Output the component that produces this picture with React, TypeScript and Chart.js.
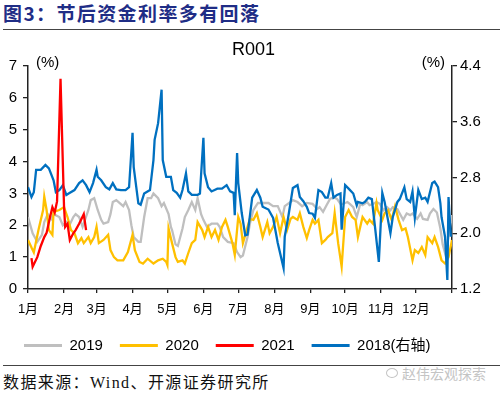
import React, { useEffect, useRef } from 'react';
import { Chart, registerables } from 'chart.js';

Chart.register(...registerables);

const MONTH_LABELS = ['1月', '2月', '3月', '4月', '5月', '6月', '7月', '8月', '9月', '10月', '11月', '12月'];
const MONTH_START_DAYS = [0, 31, 59, 90, 120, 151, 181, 212, 243, 273, 304, 334, 365];

const LEFT_TICKS = [0, 1, 2, 3, 4, 5, 6, 7];
const RIGHT_TICKS = [1.2, 2.0, 2.8, 3.6, 4.4];

const SERIES_LABELS = ['2019', '2020', '2021', '2018(右轴)'];
const SERIES_COLORS = ['#BFBFBF', '#FFC000', '#FF0000', '#0070C0'];

const DAYS_2019 = [0, 4, 8, 12, 14, 17, 20, 22, 27, 30, 33, 35, 39, 41, 44, 47, 52, 54, 57, 60, 63, 65, 69, 71, 73, 76, 78, 82, 84, 87, 89, 91, 95, 97, 100, 103, 106, 108, 112, 115, 117, 121, 123, 124, 127, 129, 133, 135, 138, 141, 144, 146, 149, 151, 154, 158, 163, 165, 168, 172, 177, 180, 183, 185, 189, 191, 194, 198, 202, 207, 211, 215, 219, 221, 226, 228, 232, 236, 240, 245, 249, 251, 254, 257, 260, 263, 266, 269, 271, 275, 277, 280, 283, 286, 288, 292, 294, 297, 300, 303, 306, 309, 312, 314, 318, 320, 323, 326, 329, 331, 335, 338, 340, 344, 346, 349, 352, 355, 357, 359, 362, 365];
const R001_2019 = [2.26, 1.75, 1.48, 1.7, 2.1, 2.35, 2.2, 2.35, 2.26, 2.0, 2.1, 1.95, 2.26, 2.35, 2.26, 1.95, 2.48, 2.79, 2.85, 2.48, 2.17, 2.05, 2.1, 2.35, 2.73, 2.79, 2.73, 2.6, 2.73, 2.48, 2.0, 1.63, 1.48, 1.48, 2.26, 2.85, 2.85, 3.0, 2.85, 2.6, 2.7, 2.35, 1.95, 1.85, 1.4, 1.35, 1.9, 2.26, 2.48, 2.73, 2.48, 2.85, 2.35, 2.17, 1.95, 2.05, 2.05, 1.95, 1.63, 1.48, 1.44, 1.16, 1.0, 1.05, 1.63, 2.05, 2.48, 2.7, 2.7, 2.7, 2.6, 2.6, 2.26, 2.6, 2.73, 2.79, 2.73, 2.6, 2.7, 2.67, 2.51, 2.57, 2.42, 2.63, 2.83, 2.88, 2.83, 2.67, 2.67, 2.73, 2.67, 2.57, 2.26, 2.67, 2.63, 2.73, 2.63, 2.67, 2.73, 2.67, 2.47, 2.57, 2.47, 2.57, 2.51, 2.37, 2.17, 2.37, 2.32, 2.37, 2.2, 2.37, 2.2, 2.17, 2.37, 2.51, 2.4, 1.9, 1.4, 1.13, 1.63, 2.32];

const DAYS_2020 = [0, 3, 5, 9, 13, 14, 16, 18, 21, 22, 27, 31, 34, 37, 40, 43, 46, 48, 52, 54, 57, 59, 61, 65, 69, 71, 74, 77, 82, 86, 90, 92, 96, 99, 103, 108, 112, 116, 119, 120, 121, 124, 127, 129, 133, 135, 138, 141, 144, 146, 150, 152, 155, 158, 161, 164, 167, 170, 172, 176, 178, 181, 183, 185, 189, 191, 194, 197, 200, 202, 206, 208, 211, 214, 217, 220, 223, 226, 228, 232, 234, 237, 240, 242, 245, 247, 250, 253, 256, 258, 262, 264, 267, 270, 273, 276, 279, 282, 284, 286, 288, 292, 294, 297, 300, 301, 305, 307, 310, 313, 316, 319, 322, 325, 327, 331, 333, 336, 339, 342, 344, 348, 350, 353, 356, 359, 362, 365];
const R001_2020 = [1.54, 1.3, 1.15, 1.85, 2.48, 2.9, 2.48, 1.85, 1.7, 2.42, 2.48, 2.57, 2.26, 1.85, 1.75, 1.44, 1.6, 1.44, 1.63, 1.44, 1.63, 1.95, 1.44, 1.54, 1.7, 1.22, 1.0, 0.9, 0.9, 1.16, 1.7, 1.22, 0.85, 0.8, 0.95, 0.8, 0.9, 0.95, 0.85, 0.75, 1.9, 1.44, 1.0, 0.85, 0.9, 0.8, 1.13, 1.44, 1.54, 2.1, 1.85, 1.63, 1.95, 1.63, 1.85, 1.54, 1.95, 2.17, 1.95, 1.44, 1.07, 2.26, 2.05, 1.44, 1.95, 2.2, 2.17, 2.38, 1.95, 1.63, 2.1, 1.75, 1.95, 2.26, 1.75, 2.26, 1.85, 2.2, 2.26, 2.17, 2.38, 1.95, 1.6, 1.85, 2.17, 2.05, 2.17, 1.44, 1.54, 1.63, 1.75, 2.38, 1.44, 0.7, 2.26, 2.48, 2.26, 2.17, 1.63, 1.95, 2.26, 2.05, 2.17, 2.05, 2.7, 2.48, 2.17, 2.38, 2.48, 2.17, 2.6, 2.17, 1.85, 1.9, 1.63, 0.9, 1.22, 1.13, 1.32, 1.07, 1.63, 1.44, 1.63, 1.32, 0.9, 0.8, 1.0, 1.54];

const DAYS_2021 = [3, 4, 8, 11, 14, 16, 19, 21, 23, 25, 28, 31, 32, 34, 36, 39, 41, 44, 46, 48, 50];
const R001_2021 = [0.97, 0.7, 1.0, 1.35, 1.63, 1.76, 2.26, 2.57, 2.4, 2.75, 6.6, 2.6, 1.95, 2.05, 1.54, 1.75, 1.85, 2.05, 2.2, 2.35, 1.85];

const DAYS_2018 = [0, 3, 5, 7, 11, 15, 18, 22, 24, 27, 30, 33, 35, 40, 44, 47, 50, 53, 56, 59, 60, 63, 67, 70, 73, 76, 80, 84, 87, 90, 91, 95, 97, 100, 105, 108, 109, 112, 115, 116, 119, 123, 125, 128, 131, 133, 136, 138, 141, 146, 148, 151, 152, 155, 158, 163, 167, 171, 174, 177, 178, 180, 181, 184, 187, 189, 193, 197, 200, 202, 207, 211, 215, 220, 221, 224, 228, 232, 234, 237, 240, 242, 245, 247, 250, 253, 256, 258, 261, 263, 266, 269, 270, 273, 276, 280, 283, 284, 288, 290, 293, 296, 299, 302, 305, 307, 312, 314, 318, 320, 324, 326, 329, 331, 333, 336, 339, 342, 344, 348, 350, 353, 355, 356, 359, 361, 362, 364];
const R001_2018 = [2.66, 2.52, 2.59, 2.91, 2.91, 2.98, 2.93, 2.76, 2.59, 2.62, 2.69, 2.55, 2.57, 2.62, 2.72, 2.76, 2.69, 2.59, 2.72, 2.91, 2.81, 2.76, 2.66, 2.63, 2.72, 2.63, 2.62, 2.62, 2.66, 3.44, 2.95, 2.43, 2.41, 2.57, 2.62, 3.05, 3.34, 3.58, 4.06, 3.05, 2.81, 2.81, 2.62, 2.58, 2.51, 2.62, 2.86, 2.6, 2.55, 2.55, 2.57, 3.37, 2.86, 2.66, 2.6, 2.64, 2.64, 2.69, 2.6, 2.58, 2.26, 3.15, 2.72, 2.29, 1.97, 1.98, 2.51, 2.62, 2.51, 2.38, 2.34, 2.22, 1.86, 1.5, 1.95, 2.23, 2.65, 2.69, 2.52, 2.46, 2.38, 2.29, 2.28, 2.22, 2.62, 2.59, 2.51, 2.51, 2.72, 2.51, 2.55, 2.57, 2.05, 2.69, 2.64, 2.57, 2.4, 2.45, 2.43, 2.45, 2.51, 2.49, 2.05, 1.59, 2.58, 2.45, 2.0, 2.23, 2.45, 2.49, 2.66, 2.49, 2.45, 2.6, 2.22, 2.62, 2.49, 2.51, 2.45, 2.72, 2.74, 2.66, 2.43, 2.23, 1.95, 1.33, 2.52, 1.95];

const CHART_TITLE = 'R001';
const UNIT_LABEL = '(%)';
const HEADER_TEXT = '图3：节后资金利率多有回落';
const SOURCE_TEXT = '数据来源：Wind、开源证券研究所';
const WATERMARK_TEXT = '赵伟宏观探索';

const FONT_FAMILY = "'Liberation Sans', Arial, 'Noto Sans CJK SC', sans-serif";

const pairs = (days: number[], vals: number[]) => days.map((d, i) => ({ x: d, y: vals[i] }));

const unitPlugin = {
  id: 'unitLabels',
  afterDraw(chart: any) {
    const { ctx, chartArea } = chart;
    ctx.save();
    ctx.font = `15px ${FONT_FAMILY}`;
    ctx.fillStyle = '#000';
    ctx.textBaseline = 'middle';
    ctx.textAlign = 'left';
    ctx.fillText(UNIT_LABEL, chartArea.left + 8, chartArea.top - 3);
    ctx.textAlign = 'right';
    ctx.fillText(UNIT_LABEL, chartArea.right - 7, chartArea.top - 3);
    ctx.restore();
  },
};

export default function App() {
  const canvasRef = useRef<HTMLCanvasElement | null>(null);

  useEffect(() => {
    document.body.style.margin = '0';
    const canvas = canvasRef.current;
    if (!canvas) return;
    const seriesData = [
      pairs(DAYS_2019, R001_2019),
      pairs(DAYS_2020, R001_2020),
      pairs(DAYS_2021, R001_2021),
      pairs(DAYS_2018, R001_2018),
    ];
    const axisIds = ['y', 'y', 'y', 'y1'];
    const orders = [3, 2, 0, 1];
    const chart = new Chart(canvas, {
      type: 'line',
      data: {
        datasets: seriesData.map((d, i) => ({
          label: SERIES_LABELS[i],
          data: d,
          borderColor: SERIES_COLORS[i],
          backgroundColor: SERIES_COLORS[i],
          borderWidth: 2.3,
          pointRadius: 0,
          pointHoverRadius: 0,
          tension: 0,
          fill: false,
          yAxisID: axisIds[i],
          order: orders[i],
        })),
      },
      options: {
        responsive: false,
        animation: false,
        parsing: true,
        layout: { padding: { left: 7, right: 0, top: 0, bottom: 0 } },
        plugins: {
          tooltip: { enabled: false },
          title: {
            display: true,
            text: CHART_TITLE,
            color: '#000',
            font: { size: 18, family: FONT_FAMILY, weight: 'normal', lineHeight: 1.2 },
            padding: { top: 3, bottom: 5.4 },
          },
          legend: {
            position: 'bottom',
            align: 'start',
            labels: {
              boxWidth: 38,
              boxHeight: 3,
              padding: 17,
              color: '#000',
              font: { size: 15, family: FONT_FAMILY },
              generateLabels: (c: any) =>
                Chart.defaults.plugins.legend.labels
                  .generateLabels(c)
                  .map((l: any) => ({ ...l, lineWidth: 0, fillStyle: l.strokeStyle })),
              sort: (a: any, b: any) => a.datasetIndex - b.datasetIndex,
            },
          },
        },
        scales: {
          x: {
            type: 'linear',
            min: 0,
            max: 365,
            afterBuildTicks: (s: any) => {
              s.ticks = MONTH_START_DAYS.map((v) => ({ value: v }));
            },
            afterFit: (s: any) => {
              s.height = 32;
            },
            ticks: {
              autoSkip: false,
              maxRotation: 0,
              padding: 9,
              color: '#000',
              font: { size: 13, family: FONT_FAMILY },
              callback: (_v: any, i: number) => MONTH_LABELS[i] ?? '',
            },
            grid: { drawOnChartArea: false, drawTicks: true, tickLength: 4, color: '#222', lineWidth: 1.3 },
            border: { display: true, color: '#222', width: 1.5 },
          },
          y: {
            type: 'linear',
            position: 'left',
            min: 0,
            max: 7,
            afterBuildTicks: (s: any) => {
              s.ticks = LEFT_TICKS.map((v) => ({ value: v }));
            },
            afterFit: (s: any) => {
              s.width = 21;
            },
            ticks: {
              padding: 6,
              color: '#000',
              font: { size: 15, family: FONT_FAMILY },
              callback: (v: any) => String(v),
            },
            grid: { drawOnChartArea: false, drawTicks: true, tickLength: 5, color: '#222', lineWidth: 1.3 },
            border: { display: true, color: '#222', width: 1.5 },
          },
          y1: {
            type: 'linear',
            position: 'right',
            min: 1.2,
            max: 4.4,
            afterBuildTicks: (s: any) => {
              s.ticks = RIGHT_TICKS.map((v) => ({ value: v }));
            },
            afterFit: (s: any) => {
              s.width = 48;
            },
            ticks: {
              padding: 3,
              color: '#000',
              font: { size: 15, family: FONT_FAMILY },
              callback: (v: any) => Number(v).toFixed(1),
            },
            grid: { drawOnChartArea: false, drawTicks: true, tickLength: 5, color: '#222', lineWidth: 1.3 },
            border: { display: true, color: '#222', width: 1.5 },
          },
        },
      },
      plugins: [unitPlugin],
    });
    return () => chart.destroy();
  }, []);

  return (
    <div style={{ position: 'relative', width: 500, height: 393, background: '#fff', overflow: 'hidden' }}>
      <div
        style={{
          position: 'absolute',
          left: 3,
          top: 0,
          fontFamily: "'Noto Sans CJK SC', sans-serif",
          fontWeight: 700,
          fontSize: 19,
          lineHeight: '26px',
          letterSpacing: '1.4px',
          color: '#1f2d86',
          whiteSpace: 'nowrap',
        }}
      >
        {HEADER_TEXT}
      </div>
      <div style={{ position: 'absolute', left: 3, top: 29, width: 497, height: 1, background: '#444' }} />
      <div style={{ position: 'absolute', left: 0, top: 36, width: 500, height: 327 }}>
        <canvas ref={canvasRef} width={500} height={327} style={{ display: 'block' }} />
      </div>
      <div style={{ position: 'absolute', left: 3, top: 365, width: 497, height: 1, background: '#444' }} />
      <div
        style={{
          position: 'absolute',
          left: 3,
          top: 373,
          fontFamily: "'Liberation Serif', 'Noto Sans CJK SC', serif",
          fontSize: 16,
          lineHeight: '20px',
          letterSpacing: '1.4px',
          color: '#111',
          whiteSpace: 'nowrap',
        }}
      >
        {SOURCE_TEXT}
      </div>
      <div
        style={{
          position: 'absolute',
          left: 386,
          top: 364,
          fontFamily: "'Noto Sans CJK SC', sans-serif",
          fontSize: 14,
          lineHeight: '18px',
          color: '#c4c4c4',
          whiteSpace: 'nowrap',
          display: 'flex',
          alignItems: 'center',
        }}
      >
        <span
          style={{
            display: 'inline-block',
            width: 10,
            height: 8,
            border: '1px solid #c4c4c4',
            borderRadius: '50%',
            marginRight: 4,
          }}
        />
        {WATERMARK_TEXT}
      </div>
    </div>
  );
}
